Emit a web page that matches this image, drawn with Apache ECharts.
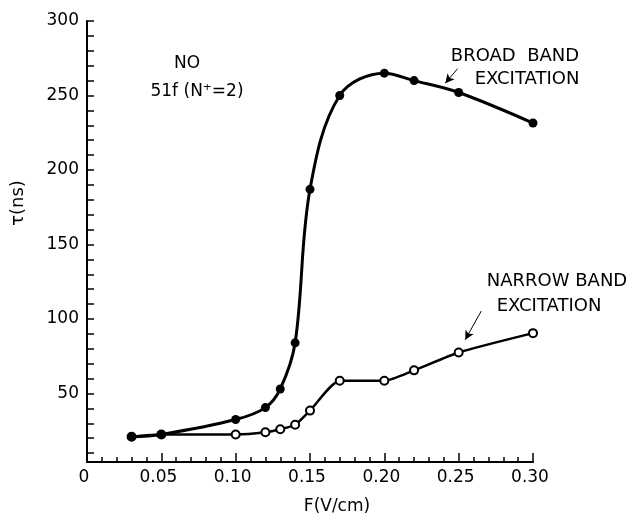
<!DOCTYPE html>
<html>
<head>
<meta charset="utf-8">
<script src="https://cdn.jsdelivr.net/npm/echarts@6/dist/echarts.min.js"></script>
<style>html,body{margin:0;padding:0;background:#fff;}#chart{width:631px;height:520px;}</style>
</head>
<body>
<div id="chart"></div>
<script>
// Field strength F (V/cm)
const fieldStrength = [0.03, 0.05, 0.10, 0.12, 0.13, 0.14, 0.15, 0.17, 0.20, 0.22, 0.25, 0.30];
// Lifetime tau (ns), broad band excitation (filled circles)
const broadBand = [21, 22.5, 32.5, 40.5, 53, 84, 187, 250, 265, 260, 252, 231.5];
// Lifetime tau (ns), narrow band excitation (open circles)
const narrowBand = [21, 22.5, 22.5, 24, 26, 29, 38.5, 58.5, 58.5, 65.5, 77.5, 90.5];
// Tick labels
const yLabelValues = [50, 100, 150, 200, 250, 300];
const yTickValues = [10, 20, 30, 40, 50, 60, 70, 80, 90, 100, 110, 120, 130, 140, 150, 160, 170, 180, 190, 200, 210, 220, 230, 240, 250, 260, 270, 280, 290, 300];
// Annotation arrows (data coordinates: [from, to])
const broadArrow = [[0.2493, 268], [0.2410, 258.3]];
const narrowArrow = [[0.2652, 105.3], [0.2544, 86.1]];

const FONT = 'DejaVu Sans';
const chart = echarts.init(document.getElementById('chart'), null, {renderer: 'canvas'});

const toPairs = (xs, ys) => xs.map((x, i) => [x, ys[i]]);

chart.setOption({
  backgroundColor: '#fff',
  animation: false,
  grid: {left: 87, right: 98, top: 21, bottom: 52, containLabel: false},
  xAxis: {
    type: 'value', min: 0, max: 0.30, interval: 0.05,
    name: 'F(V/cm)', nameLocation: 'middle', nameGap: 36,
    nameTextStyle: {color: '#000', fontFamily: FONT, fontSize: 17, padding: [0, 0, 0, 54]},
    axisLine: {show: true, onZero: false, lineStyle: {color: '#000', width: 2}},
    axisTick: {show: true, inside: true, length: 9, lineStyle: {color: '#000', width: 1.5}},
    minorTick: {show: true, splitNumber: 5, length: 5, lineStyle: {color: '#000', width: 1.5}},
    axisLabel: {color: '#000', fontFamily: FONT, fontSize: 17, margin: 7, padding: [0, 6, 0, 0],
      formatter: v => v === 0 ? '0' : v.toFixed(2)},
    splitLine: {show: false}
  },
  yAxis: {
    type: 'value', min: 4, max: 300,
    name: 'τ(ns)', nameLocation: 'middle', nameGap: 60,
    nameTextStyle: {color: '#000', fontFamily: FONT, fontSize: 18, padding: [0, 0, 0, 77]},
    axisLine: {show: true, onZero: false, lineStyle: {color: '#000', width: 2}},
    axisTick: {show: true, inside: true, length: 7, customValues: yTickValues, lineStyle: {color: '#000', width: 1.5}},
    axisLabel: {color: '#000', fontFamily: FONT, fontSize: 17, margin: 8, customValues: yLabelValues},
    splitLine: {show: false}
  },
  series: [
    {
      name: 'Narrow band excitation', type: 'line',
      data: toPairs(fieldStrength, narrowBand),
      smooth: 0.2,
      symbol: 'emptyCircle', symbolSize: 8,
      lineStyle: {color: '#000', width: 2.5},
      itemStyle: {color: '#000', borderColor: '#000', borderWidth: 1.5},
      markLine: {
        silent: true, symbol: ['none', 'arrow'], symbolSize: [7, 9],
        label: {show: false},
        lineStyle: {color: '#000', width: 1, type: 'solid'},
        data: [[{coord: narrowArrow[0]}, {coord: narrowArrow[1]}]]
      }
    },
    {
      name: 'Broad band excitation', type: 'line',
      data: toPairs(fieldStrength, broadBand),
      smooth: 0.35,
      symbol: 'circle', symbolSize: 9,
      lineStyle: {color: '#000', width: 3},
      itemStyle: {color: '#000'},
      markLine: {
        silent: true, symbol: ['none', 'arrow'], symbolSize: [7, 9],
        label: {show: false},
        lineStyle: {color: '#000', width: 1, type: 'solid'},
        data: [[{coord: broadArrow[0]}, {coord: broadArrow[1]}]]
      }
    }
  ],
  graphic: [
    {type: 'text', x: 187, y: 64, style: {text: 'NO', font: '17px "DejaVu Sans"', fill: '#000', textAlign: 'center', textVerticalAlign: 'middle'}},
    {type: 'text', x: 197, y: 92, style: {text: '51f (N⁺=2)', font: '17px "DejaVu Sans"', fill: '#000', textAlign: 'center', textVerticalAlign: 'middle'}},
    {type: 'text', x: 515, y: 56, style: {text: 'BROAD  BAND', font: '18px "DejaVu Sans"', fill: '#000', textAlign: 'center', textVerticalAlign: 'middle'}},
    {type: 'text', x: 527, y: 79, style: {text: 'EXCITATION', font: '18px "DejaVu Sans"', fill: '#000', textAlign: 'center', textVerticalAlign: 'middle'}},
    {type: 'text', x: 557, y: 281, style: {text: 'NARROW BAND', font: '18px "DejaVu Sans"', fill: '#000', textAlign: 'center', textVerticalAlign: 'middle'}},
    {type: 'text', x: 549, y: 306, style: {text: 'EXCITATION', font: '18px "DejaVu Sans"', fill: '#000', textAlign: 'center', textVerticalAlign: 'middle'}}
  ]
});
</script>
</body>
</html>
